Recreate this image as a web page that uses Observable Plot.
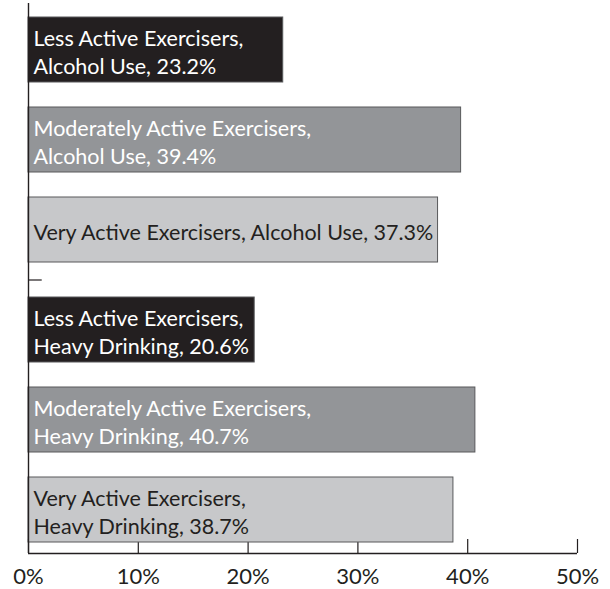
<!DOCTYPE html>
<html><head><meta charset="utf-8">
<script src="https://cdn.jsdelivr.net/npm/d3@7"></script>
<script src="https://cdn.jsdelivr.net/npm/@observablehq/plot@0.6"></script>
<style>body{margin:0;background:#fff}</style>
</head><body><div id="chart"></div>
<script>
const groups = ["Alcohol Use", "Heavy Drinking"];
const levels = ["Less Active Exercisers", "Moderately Active Exercisers", "Very Active Exercisers"];
const alcoholUse = [23.2, 39.4, 37.3];
const heavyDrinking = [20.6, 40.7, 38.7];
const oneLineLabel = [[false, false, true], [false, false, false]];
const xTicks = [0, 10, 20, 30, 40, 50];
const fills = ["#231f20", "#939598", "#c7c8ca"];
const textColors = ["#ffffff", "#ffffff", "#231f20"];

// layout in "bar pitch" units
const BAR = 65 / 90, GAP = 10 / 90;
const rows = [];
groups.forEach((g, gi) => {
  const vals = gi === 0 ? alcoholUse : heavyDrinking;
  levels.forEach((lv, li) => {
    const top = gi * (3 + GAP) + li;
    rows.push({
      group: g, level: lv, li, value: vals[li],
      y1: top, y2: top + BAR, yc: top + BAR / 2,
      label: `${lv},${oneLineLabel[gi][li] ? " " : "\n"}${g}, ${vals[li]}%`
    });
  });
});
const yTop = -14 / 90;
const yBottom = (3 + GAP) + 2 + BAR + 11 / 90;
const sep = 2 + BAR + (1 + GAP - BAR) / 2;

const chart = Plot.plot({
  width: 610, height: 589,
  marginLeft: 28, marginRight: 33, marginTop: 3, marginBottom: 36,
  style: {fontFamily: "Lato, sans-serif", fontSize: "22px", color: "#231f20", background: "#fff"},
  x: {domain: [0, 50], axis: null},
  y: {domain: [yTop, yBottom], reverse: true, axis: null},
  marks: [
    Plot.ruleX(xTicks, {x: d => d, y1: yBottom, y2: yBottom - 14 / 90, stroke: "#231f20", strokeWidth: 1.2}),
    Plot.rectX(rows, {x1: 0, x2: "value", y1: "y1", y2: "y2", fill: d => fills[d.li], stroke: "#58595b", strokeWidth: 1}),
    Plot.ruleY([yBottom], {x1: 0, x2: 50, stroke: "#231f20", strokeWidth: 1.4}),
    Plot.ruleX([0], {y1: yTop, y2: yBottom, stroke: "#231f20", strokeWidth: 1.4}),
    Plot.ruleY([sep], {x1: 0, x2: 1.25, stroke: "#231f20", strokeWidth: 1.2}),
    Plot.text(rows, {x: 0, y: "yc", text: "label", textAnchor: "start", dx: 5, dy: 1,
      fill: d => textColors[d.li], fontSize: 21.5, lineHeight: 1.3}),
    Plot.text(xTicks, {x: d => d, y: yBottom, text: d => d + "%", dy: 23, fontSize: 22, fill: "#231f20"})
  ]
});
document.getElementById("chart").append(chart);
</script>
</body></html>
